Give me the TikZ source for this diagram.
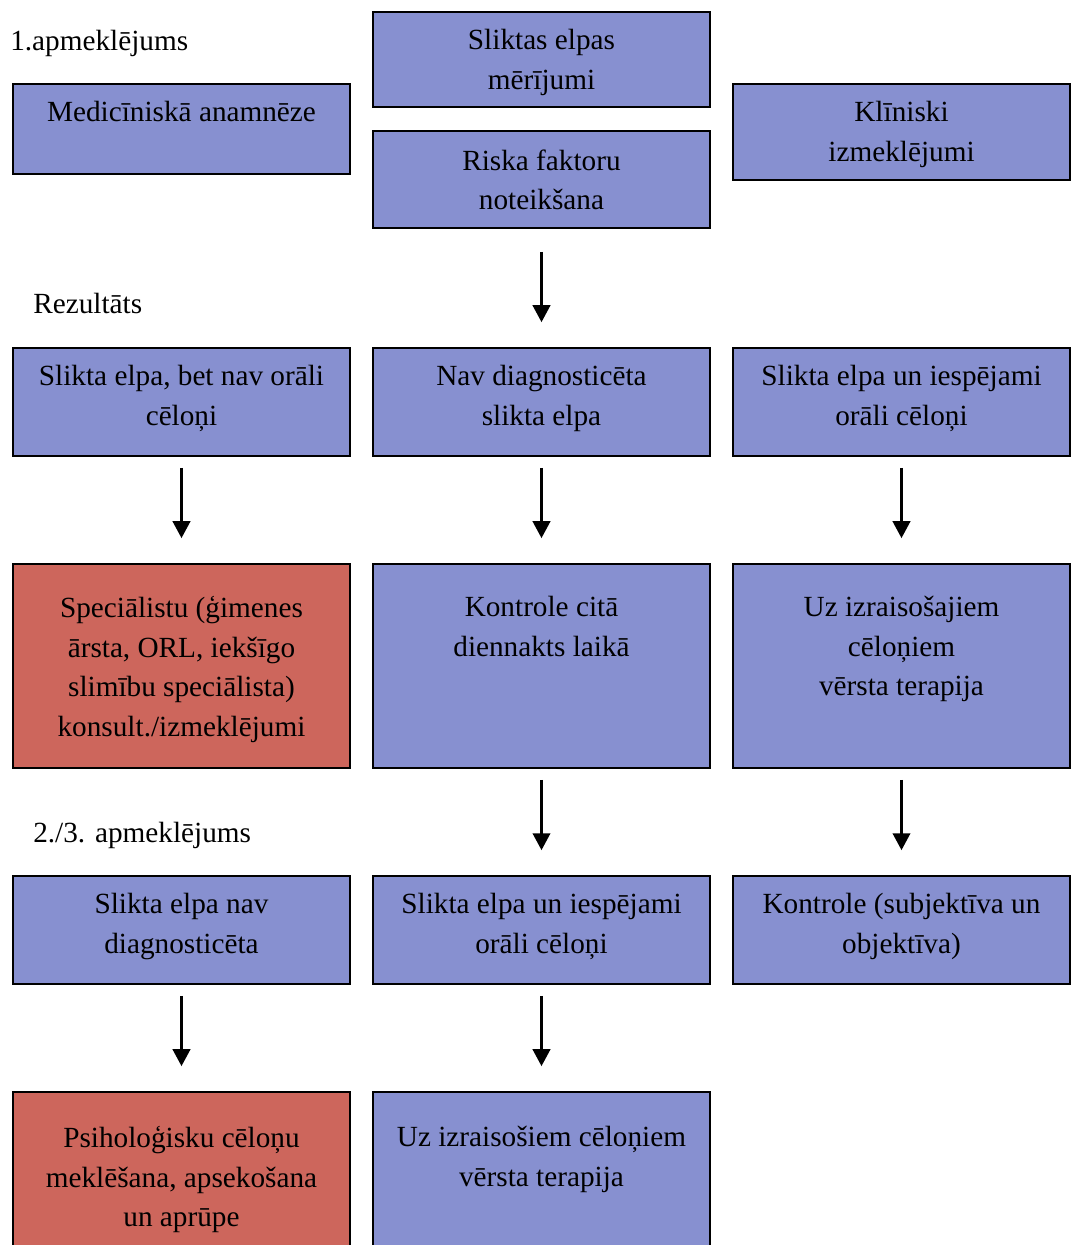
\documentclass[tikz,border=0pt]{standalone}
\usepackage{fontspec}
\setmainfont{Liberation Serif}
\usetikzlibrary{positioning,arrows.meta}
\definecolor{boxblue}{RGB}{135,144,208}
\definecolor{boxred}{RGB}{205,102,92}
\tikzset{
  box/.style={draw=black, line width=1.2pt, fill=boxblue, minimum width=8.425cm, inner sep=0pt},
  redbox/.style={box, fill=boxred},
  txt/.style={align=center, inner sep=0pt, font=\fontsize{20.8}{28.1}\selectfont, execute at begin node=\strut},
  lbl/.style={anchor=base west, inner sep=0pt, font=\fontsize{20.8}{28.1}\selectfont},
  arr/.style={-{Triangle[width=12.5pt,length=12pt]}, line width=1.5pt, shorten <=7.8pt, shorten >=17.8pt}
}

\begin{document}
\begin{tikzpicture}[x=0.025cm, y=-0.025cm]
  \clip (0,0) rectangle (1071,1245);

  % First visit
  \node[lbl] (visA) at (10,50) {1.apmeklējums};
  \node[box, minimum height=2.25cm] (anam) at (181.5,129) {};
  \node[txt, below=0.25cm of anam.north] (anamT) {Medicīniskā anamnēze};
  \node[box, minimum height=2.375cm] (meas) at (541.5,59.5) {};
  \node[txt, below=0.45cm of meas.north] (measT) {Sliktas elpas\\mērījumi};
  \node[box, minimum height=2.425cm] (risk) at (541.5,179.5) {};
  \node[txt, below=0.475cm of risk.north] (riskT) {Riska faktoru\\noteikšana};
  \node[box, minimum height=2.4cm] (clin) at (901.5,132) {};
  \node[txt, below=0.45cm of clin.north] (clinT) {Klīniski\\izmeklējumi};

  % Result
  \node[lbl] (resL) at (33,313) {Rezultāts};
  \node[box, minimum height=2.7cm] (resA) at (181.5,402) {};
  \node[txt, below=0.45cm of resA.north] (resAT) {Slikta elpa, bet nav orāli\\cēloņi};
  \node[box, minimum height=2.7cm] (resB) at (541.5,402) {};
  \node[txt, below=0.45cm of resB.north] (resBT) {Nav diagnosticēta\\slikta elpa};
  \node[box, minimum height=2.7cm] (resC) at (901.5,402) {};
  \node[txt, below=0.45cm of resC.north] (resCT) {Slikta elpa un iespējami\\orāli cēloņi};

  % Actions
  \node[redbox, minimum height=5.1cm] (actA) at (181.5,666) {};
  \node[txt, below=0.825cm of actA.north] (actAT) {Speciālistu (ģimenes\\ārsta, ORL, iekšīgo\\slimību speciālista)\\konsult./izmeklējumi};
  \node[box, minimum height=5.1cm] (actB) at (541.5,666) {};
  \node[txt, below=0.825cm of actB.north] (actBT) {Kontrole citā\\diennakts laikā};
  \node[box, minimum height=5.1cm] (actC) at (901.5,666) {};
  \node[txt, below=0.825cm of actC.north] (actCT) {Uz izraisošajiem\\cēloņiem\\vērsta terapija};

  % Second/third visit
  \node[lbl] (visB) at (33,842) {2./3. apmeklējums};
  \node[box, minimum height=2.7cm] (nextA) at (181.5,930) {};
  \node[txt, below=0.45cm of nextA.north] (nextAT) {Slikta elpa nav\\diagnosticēta};
  \node[box, minimum height=2.7cm] (nextB) at (541.5,930) {};
  \node[txt, below=0.45cm of nextB.north] (nextBT) {Slikta elpa un iespējami\\orāli cēloņi};
  \node[box, minimum height=2.7cm] (nextC) at (901.5,930) {};
  \node[txt, below=0.45cm of nextC.north] (nextCT) {Kontrole (subjektīva un\\objektīva)};

  % Final
  \node[redbox, minimum height=5cm] (endA) at (181.5,1192) {};
  \node[txt, below=0.875cm of endA.north] (endAT) {Psiholoģisku cēloņu\\meklēšana, apsekošana\\un aprūpe};
  \node[box, minimum height=5cm] (endB) at (541.5,1192) {};
  \node[txt, below=0.875cm of endB.north] (endBT) {Uz izraisošiem cēloņiem\\vērsta terapija};

  % Arrows
  \draw[arr, shorten <=16.4pt] (risk) -- (resB);
  \foreach \a/\b in {resA/actA, resB/actB, resC/actC, actB/nextB, actC/nextC, nextA/endA, nextB/endB}
    \draw[arr] (\a) -- (\b);
\end{tikzpicture}
\end{document}
